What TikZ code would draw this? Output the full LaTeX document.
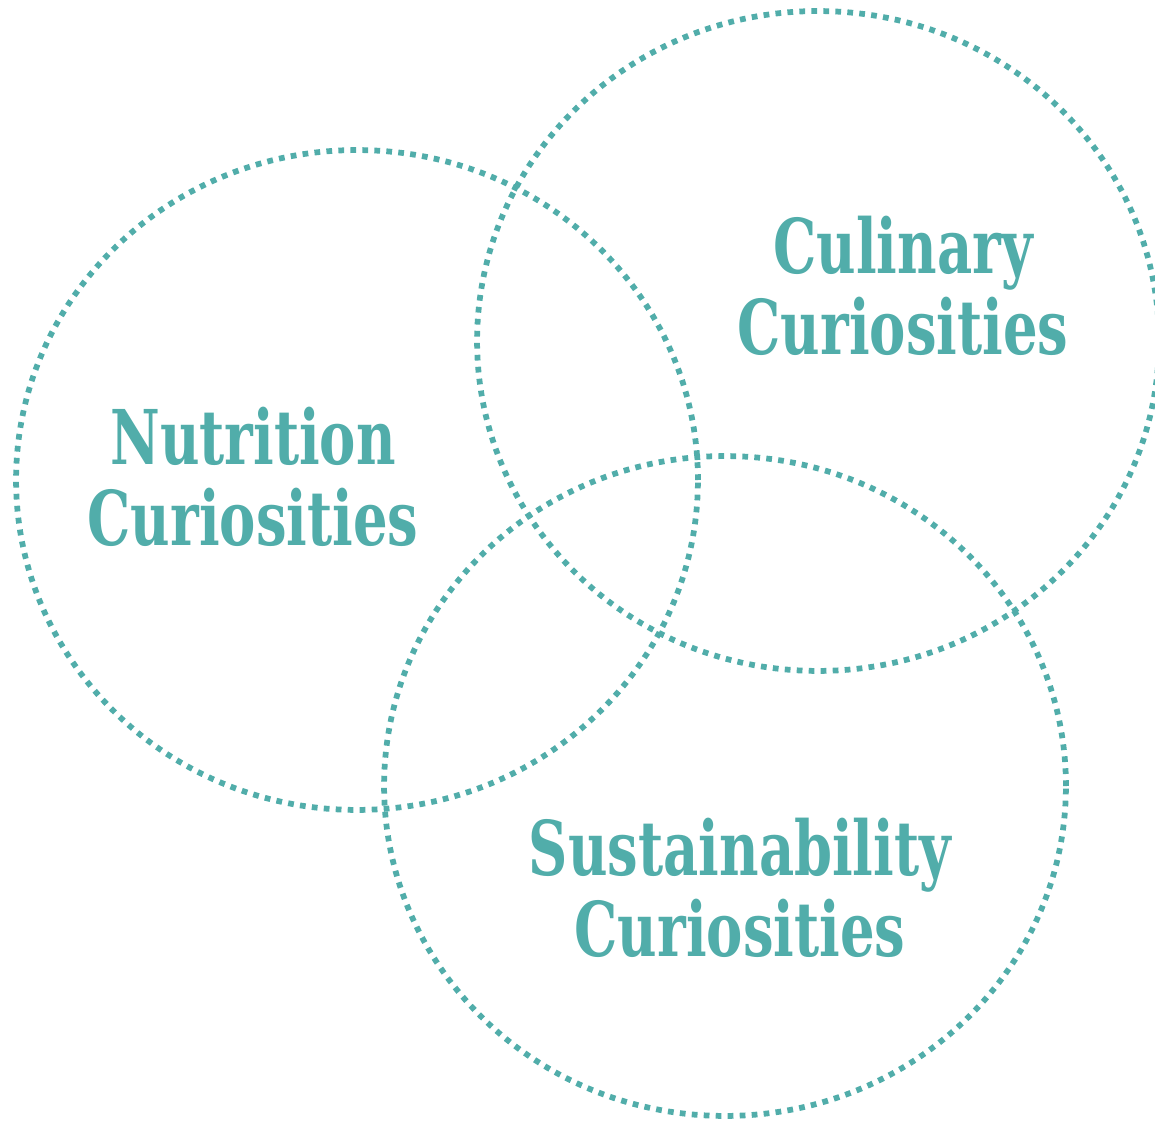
\documentclass[tikz,border=0pt]{standalone}
\usepackage{fontspec}
\setmainfont{DejaVu Serif}
\newfontfamily\curiofont{DejaVu Serif}[FakeStretch=0.72]
\usetikzlibrary{shapes.geometric}
\definecolor{curioteal}{RGB}{81,173,170}
\tikzstyle{ring} = [ellipse, draw=curioteal, line width=0.115cm, dash pattern=on 0.115cm off 0.125cm, minimum width=13.64cm, minimum height=13.2cm, inner sep=0pt]
\tikzstyle{topic} = [text=curioteal, font={\curiofont\bfseries\fontsize{43}{46}\selectfont}, align=center, inner sep=0pt]

\begin{document}
\begin{tikzpicture}[x=0.02cm, y=-0.02cm]
	\useasboundingbox (0,0) rectangle (1155,1121);
	%Rings
	\node[ring] (nutrition) at (357,480) {};
	\node[ring] (culinary) at (818,341) {};
	\node[ring] (sustain) at (725,786) {};
	%Labels
	\node[topic] (nutritionlabel) at (253,477) {Nutrition\\Curiosities};
	\node[topic] (culinarylabel) at (903,286) {Culinary\\Curiosities};
	\node[topic] (sustainlabel) at (740,888) {Sustainability\\Curiosities};
\end{tikzpicture}
\end{document}
